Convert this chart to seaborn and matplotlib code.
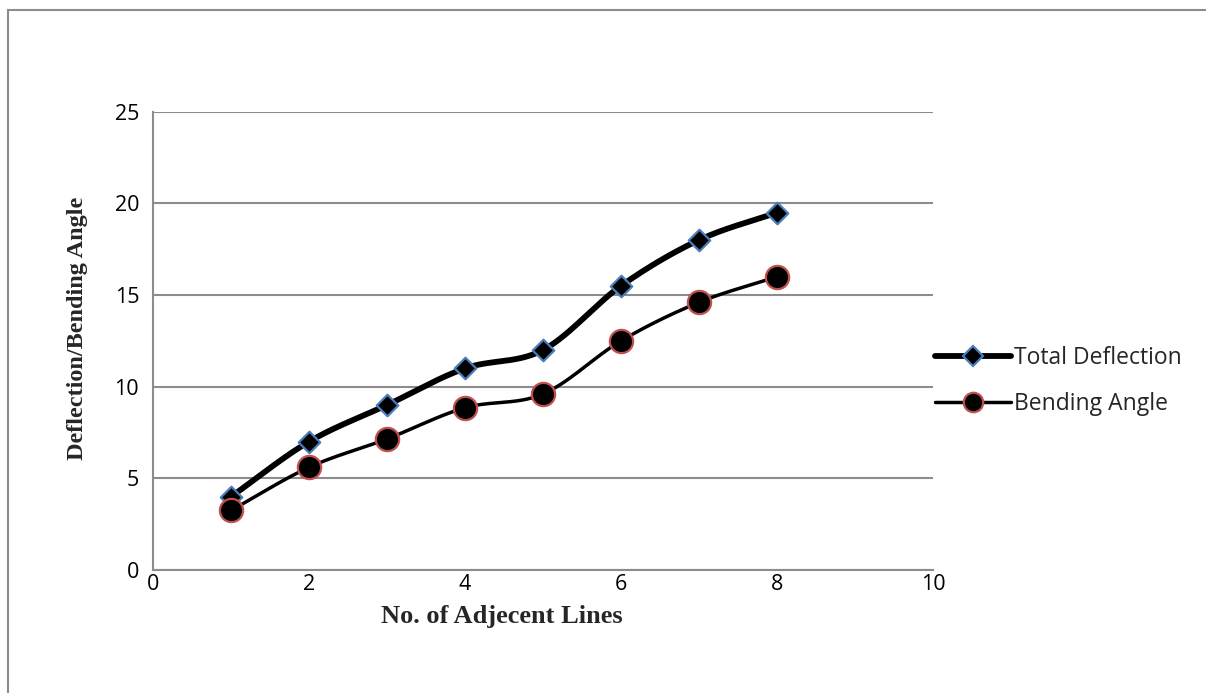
import numpy as np
import pandas as pd
import matplotlib
matplotlib.use("Agg")
import matplotlib.pyplot as plt
import seaborn as sns
from matplotlib.lines import Line2D
from matplotlib.patches import Rectangle

# ---- data ----
adjacent_lines = [1, 2, 3, 4, 5, 6, 7, 8]
total_deflection = [4.0, 7.0, 9.0, 11.0, 12.0, 15.5, 18.0, 19.5]
bending_angle = [3.25, 5.6, 7.15, 8.85, 9.6, 12.5, 14.6, 16.0]
x_ticks = [0, 2, 4, 6, 8, 10]
y_ticks = [0, 5, 10, 15, 20, 25]

sns.set_theme(style="white")
plt.rcParams['font.family'] = ['Open Sans', 'DejaVu Sans']

W, H = 1206, 693
fig = plt.figure(figsize=(W/100, H/100), dpi=100)
ax = fig.add_axes([153/W, 1-570/H, (933-153)/W, (570-111.7)/H])

df = pd.DataFrame({"x": adjacent_lines, "Total Deflection": total_deflection,
                   "Bending Angle": bending_angle})


def smooth(xs, ys, n=30):
    # Bezier smoothing like Excel's "smoothed line" rendering
    xs = np.asarray(xs, float); ys = np.asarray(ys, float)
    P = np.column_stack([xs, ys])
    P = np.vstack([P[0] - (P[1] - P[0]), P, P[-1] + (P[-1] - P[-2])])
    out = []
    for i in range(1, len(P) - 2):
        p0, p1, p2, p3 = P[i-1], P[i], P[i+1], P[i+2]
        t = np.linspace(0, 1, n)[:, None]
        c1 = p1 + (p2 - p0) / 6
        c2 = p2 - (p3 - p1) / 6
        seg = ((1-t)**3)*p1 + 3*((1-t)**2)*t*c1 + 3*(1-t)*(t**2)*c2 + (t**3)*p2
        out.append(seg if i == 1 else seg[1:])
    S = np.vstack(out)
    return S[:, 0], S[:, 1]

sx, sy = smooth(df["x"], df["Total Deflection"])
ax.plot(sx, sy, color="black", lw=4.2, solid_capstyle="round", zorder=2)
bx, by = smooth(df["x"], df["Bending Angle"])
ax.plot(bx, by, color="black", lw=2.5, solid_capstyle="round", zorder=2)

sns.scatterplot(data=df, x="x", y="Total Deflection", marker="D", s=120,
                color="black", edgecolor="#4a7ebb", linewidth=1.6, ax=ax, zorder=3)
sns.scatterplot(data=df, x="x", y="Bending Angle", marker="o", s=280,
                color="black", edgecolor="#c0504d", linewidth=1.6, ax=ax, zorder=3)

ax.set_xlim(0, 10)
ax.set_ylim(0, 25)
ax.set_xticks(x_ticks)
ax.set_yticks(y_ticks)
ax.tick_params(axis="both", length=0, labelsize=15.5, colors="black")
ax.tick_params(axis="x", pad=3)
ax.tick_params(axis="y", pad=10)
ax.yaxis.grid(True, color="#8c8c8c", lw=1.5)
ax.xaxis.grid(False)
for s in ["top", "right"]:
    ax.spines[s].set_visible(False)
for s in ["left", "bottom"]:
    ax.spines[s].set_color("#8c8c8c")
    ax.spines[s].set_linewidth(1.5)

ax.set_xlabel("No. of Adjecent Lines", family="Liberation Serif", fontweight="bold",
              fontsize=19)
ax.set_ylabel("Deflection/Bending Angle", family="Liberation Serif", fontweight="bold",
              fontsize=17.5)
ax.xaxis.set_label_coords((502-153)/780, (570-617)/458.3)
ax.xaxis.label.set_va("center")
ax.yaxis.set_label_coords((78-153)/780, (570-328)/458.3)
ax.yaxis.label.set_va("center")

handles = [
    Line2D([0], [0], color="black", lw=4.2, marker="D", markersize=10,
           markerfacecolor="black", markeredgecolor="#4a7ebb", markeredgewidth=1.6),
    Line2D([0], [0], color="black", lw=2.5, marker="o", markersize=14,
           markerfacecolor="black", markeredgecolor="#c0504d", markeredgewidth=1.6),
]
leg = fig.legend(handles, ["Total Deflection", "Bending Angle"], loc="center left",
                 bbox_to_anchor=(935/W, 1-381/H), frameon=False, fontsize=16.5,
                 handlelength=3.3, handletextpad=0.15, labelspacing=1.0,
                 borderpad=0, borderaxespad=0)

# outer chart border
fig.add_artist(Rectangle((8/W, -0.01), 1.05, 1 - 10/H + 0.01,
                         transform=fig.transFigure, fill=False,
                         edgecolor="#8c8c8c", lw=1.5))

fig.savefig("out.png", dpi=100)
